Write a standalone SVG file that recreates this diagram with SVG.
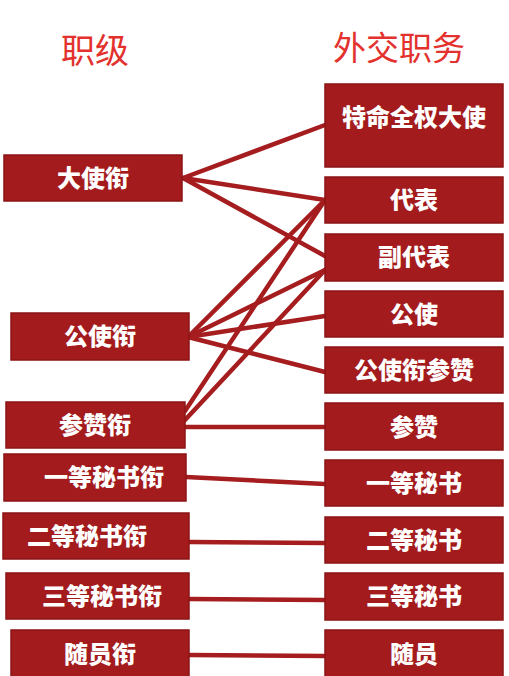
<svg xmlns="http://www.w3.org/2000/svg" width="509" height="676" viewBox="0 0 509 676">
<style>
.bg{fill:#ffffff}
.box{fill:#a31b1d;stroke:#8c1416;stroke-width:1.5}
.lbl{font-family:"Noto Sans CJK SC","Noto Sans",sans-serif;font-weight:900;font-size:24px;fill:#ffffff;text-anchor:middle}
.title{font-family:"Noto Sans CJK SC","Noto Sans",sans-serif;font-weight:400;fill:#e3312d;text-anchor:middle}
.conn line{stroke:#a51d1f;stroke-width:4.5;stroke-linecap:round}
</style>
<rect class="bg" x="0" y="0" width="509" height="676"/>
<text class="title" x="95" y="63" font-size="34">职级</text>
<text class="title" x="399" y="60" font-size="33">外交职务</text>
<g id="connectors" class="conn">
<line x1="183" y1="178" x2="325" y2="125"/>
<line x1="183" y1="178" x2="325" y2="200"/>
<line x1="183" y1="178" x2="325" y2="256"/>
<line x1="188" y1="337" x2="325" y2="200"/>
<line x1="188" y1="337" x2="325" y2="270"/>
<line x1="188" y1="337" x2="325" y2="316"/>
<line x1="188" y1="337" x2="325" y2="372"/>
<line x1="185" y1="411" x2="325" y2="200"/>
<line x1="185" y1="420" x2="325" y2="270"/>
<line x1="185" y1="427" x2="325" y2="427"/>
<line x1="186" y1="477" x2="325" y2="484"/>
<line x1="189" y1="542" x2="325" y2="543"/>
<line x1="189" y1="599" x2="325" y2="600"/>
<line x1="189" y1="655" x2="325" y2="656"/>
</g>
<g id="r-dashi"><rect class="box" x="4" y="155" width="178" height="46"/><text class="lbl" x="93" y="187">大使衔</text></g>
<g id="r-gongshi"><rect class="box" x="11" y="313" width="178" height="47"/><text class="lbl" x="100" y="345">公使衔</text></g>
<g id="r-canzan"><rect class="box" x="6" y="402" width="179" height="46"/><text class="lbl" x="95" y="434">参赞衔</text></g>
<g id="r-yideng"><rect class="box" x="4" y="454" width="182" height="47"/><text class="lbl" x="104" y="486">一等秘书衔</text></g>
<g id="r-erdeng"><rect class="box" x="3" y="513" width="186" height="46"/><text class="lbl" x="87" y="545">二等秘书衔</text></g>
<g id="r-sandeng"><rect class="box" x="6" y="573" width="183" height="46"/><text class="lbl" x="102" y="605">三等秘书衔</text></g>
<g id="r-suiyuan"><rect class="box" x="11" y="630" width="178" height="50"/><text class="lbl" x="100" y="663">随员衔</text></g>
<g id="p-tequan"><rect class="box" x="325" y="84" width="178" height="83"/><text class="lbl" x="414" y="126">特命全权大使</text></g>
<g id="p-daibiao"><rect class="box" x="325" y="177" width="178" height="46"/><text class="lbl" x="414" y="209">代表</text></g>
<g id="p-fudaibiao"><rect class="box" x="325" y="234" width="178" height="47"/><text class="lbl" x="414" y="266">副代表</text></g>
<g id="p-gongshi"><rect class="box" x="325" y="291" width="178" height="46"/><text class="lbl" x="414" y="323">公使</text></g>
<g id="p-gscanzan"><rect class="box" x="325" y="347" width="178" height="46"/><text class="lbl" x="414" y="379">公使衔参赞</text></g>
<g id="p-canzan"><rect class="box" x="325" y="403" width="178" height="47"/><text class="lbl" x="414" y="436">参赞</text></g>
<g id="p-yideng"><rect class="box" x="325" y="460" width="178" height="46"/><text class="lbl" x="414" y="492">一等秘书</text></g>
<g id="p-erdeng"><rect class="box" x="325" y="517" width="178" height="46"/><text class="lbl" x="414" y="549">二等秘书</text></g>
<g id="p-sandeng"><rect class="box" x="325" y="573" width="178" height="47"/><text class="lbl" x="414" y="605">三等秘书</text></g>
<g id="p-suiyuan"><rect class="box" x="325" y="630" width="178" height="50"/><text class="lbl" x="414" y="663">随员</text></g>
</svg>
